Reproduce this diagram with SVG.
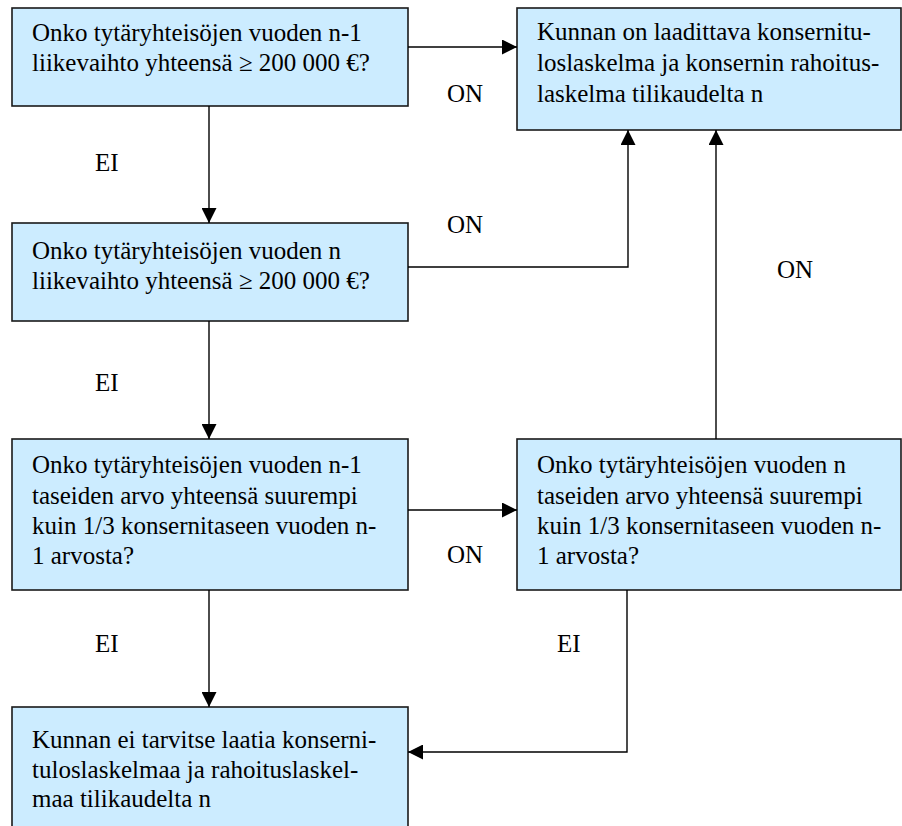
<svg xmlns="http://www.w3.org/2000/svg" width="902" height="826" viewBox="0 0 902 826">
<defs>
<marker id="ah" markerWidth="15" markerHeight="15" refX="15" refY="7.5" orient="auto" markerUnits="userSpaceOnUse">
<path d="M0,0 L15,7.5 L0,15 Z" fill="#000"/>
</marker>
<style>
.box{fill:#CCECFF;stroke:#1a1a1a;stroke-width:1.6}
.c{fill:none;stroke:#000;stroke-width:1.4;marker-end:url(#ah)}
text{font-family:Liberation Serif, DejaVu Serif, serif;font-size:25px;fill:#000}
</style>
</defs>
<rect width="902" height="826" fill="#fff"/>
<g id="q1">
<rect class="box" x="12" y="8" width="396" height="98"/>
<text x="32" y="41">Onko tytäryhteisöjen vuoden n-1</text>
<text x="32" y="71">liikevaihto yhteensä ≥ 200 000 €?</text>
</g>
<g id="yes">
<rect class="box" x="517" y="8" width="384" height="122"/>
<text x="537" y="40">Kunnan on laadittava konsernitu-</text>
<text x="537" y="71">loslaskelma ja konsernin rahoitus-</text>
<text x="537" y="102">laskelma tilikaudelta n</text>
</g>
<g id="q2">
<rect class="box" x="12" y="223" width="396" height="98"/>
<text x="32" y="259">Onko tytäryhteisöjen vuoden n</text>
<text x="32" y="289">liikevaihto yhteensä ≥ 200 000 €?</text>
</g>
<g id="q3">
<rect class="box" x="12" y="439" width="396" height="151"/>
<text x="32" y="473">Onko tytäryhteisöjen vuoden n-1</text>
<text x="32" y="504">taseiden arvo yhteensä suurempi</text>
<text x="32" y="534">kuin 1/3 konsernitaseen vuoden n-</text>
<text x="32" y="564">1 arvosta?</text>
</g>
<g id="q4">
<rect class="box" x="517" y="439" width="384" height="151"/>
<text x="537" y="473">Onko tytäryhteisöjen vuoden n</text>
<text x="537" y="504">taseiden arvo yhteensä suurempi</text>
<text x="537" y="534">kuin 1/3 konsernitaseen vuoden n-</text>
<text x="537" y="564">1 arvosta?</text>
</g>
<g id="no">
<rect class="box" x="12" y="707" width="396" height="140"/>
<text x="32" y="748">Kunnan ei tarvitse laatia konserni-</text>
<text x="32" y="778">tuloslaskelmaa ja rahoituslaskel-</text>
<text x="32" y="807">maa tilikaudelta n</text>
</g>
<g id="connectors">
<path class="c" d="M408,47 H517"/>
<path class="c" d="M209,106 V223"/>
<path class="c" d="M408,267 H628 V130"/>
<path class="c" d="M209,321 V439"/>
<path class="c" d="M408,510 H517"/>
<path class="c" d="M716,439 V130"/>
<path class="c" d="M209,590 V707"/>
<path class="c" d="M627,590 V752 H408"/>
</g>
<g id="labels">
<text x="447" y="102">ON</text>
<text x="447" y="233">ON</text>
<text x="777" y="278">ON</text>
<text x="447" y="563">ON</text>
<text x="95" y="171">EI</text>
<text x="95" y="391">EI</text>
<text x="95" y="652">EI</text>
<text x="557" y="652">EI</text>
</g>
</svg>
